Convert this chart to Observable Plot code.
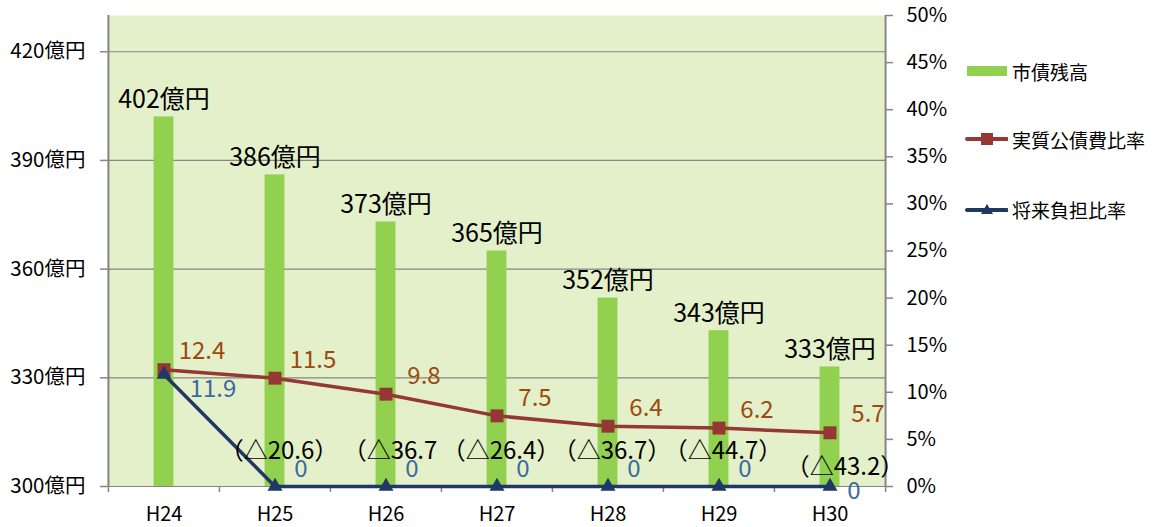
<!DOCTYPE html>
<html><head><meta charset="utf-8">
<script src="https://cdn.jsdelivr.net/npm/d3@7"></script>
<script src="https://cdn.jsdelivr.net/npm/@observablehq/plot@0.6"></script>
<style>
body{margin:0;background:#fff;}
#wrap{position:relative;width:1157px;height:527px;font-family:"Noto Sans CJK JP",sans-serif;}
#legend{position:absolute;left:0;top:0;width:1157px;height:527px;pointer-events:none;}
.item{position:absolute;left:964px;height:24px;display:flex;align-items:center;font-size:19px;color:#000;white-space:nowrap;}
.item svg{margin-right:4px;}
</style></head><body><div id="wrap"><div id="legend"></div></div>
<script>
const years = ["H24","H25","H26","H27","H28","H29","H30"];
const debt = [402,386,373,365,352,343,333];
const realRatio = [12.4,11.5,9.8,7.5,6.4,6.2,5.7];
const futureRatio = [11.9,0,0,0,0,0,0];
const notes = ["","（△20.6）","（△36.7","（△26.4）","（△36.7）","（△44.7）","（△43.2）"];
const leftTicks = [300,330,360,390,420];
const rightTicks = [0,5,10,15,20,25,30,35,40,45,50];
const seriesNames = ["市債残高","実質公債費比率","将来負担比率"];
const colors = {bar:"#92D050", real:"#953735", future:"#1F3864", realLabel:"#9C4A10", futureLabel:"#3B6AA0", bg:"#E3F0CA", grid:"#868686"};

const W=1157,H=527,ML=107,MR=272,MT=15,MB=41;
const step=(W-ML-MR)/years.length;
const yMin=300,yMax=430,pMax=50;
const toY = p => yMin + p*(yMax-yMin)/pMax;
const last = years.length-1;
const data = years.map((year,i)=>({year,i,debt:debt[i],real:realRatio[i],future:futureRatio[i],note:notes[i]}));
const gray = colors.grid;

const chart = Plot.plot({
  width:W, height:H, marginLeft:ML, marginRight:MR, marginTop:MT, marginBottom:MB,
  style:{fontFamily:'"Noto Sans CJK JP", sans-serif', fontSize:"20px", color:"#000", background:"transparent", overflow:"visible"},
  x:{type:"band", domain:years, padding:0},
  y:{domain:[yMin,yMax]},
  marks:[
    Plot.frame({fill:colors.bg, stroke:null}),
    Plot.gridY(leftTicks,{stroke:gray, strokeOpacity:1, strokeWidth:1.2}),
    Plot.barY(data,{x:"year", y1:yMin, y2:"debt", fill:colors.bar, insetLeft:(step-20)/2, insetRight:(step-20)/2}),
    Plot.ruleX(years,{dx:-step/2, insetTop:H-MT-MB, insetBottom:-6, stroke:gray, strokeWidth:1.5}),
    Plot.ruleX([years[last]],{dx:step/2, insetTop:H-MT-MB, insetBottom:-6, stroke:gray, strokeWidth:1.5}),
    Plot.ruleX([years[0]],{dx:-step/2, stroke:gray, strokeWidth:2}),
    Plot.ruleX([years[last]],{dx:step/2, stroke:gray, strokeWidth:2}),
    Plot.axisY(leftTicks,{anchor:"left", label:null, tickSize:7, tickPadding:15, tickFormat:d=>d+"億円", stroke:gray, strokeWidth:1.5, fontSize:20.5}),
    Plot.axisY(rightTicks.map(toY),{anchor:"right", label:null, tickSize:7, tickPadding:14, tickFormat:d=>Math.round((d-yMin)*pMax/(yMax-yMin))+"%", stroke:gray, strokeWidth:1.5, fontSize:20}),
    Plot.axisX({label:null, tickSize:0, tickPadding:20, fontSize:20}),
    Plot.line(data,{x:"year", y:d=>toY(d.real), stroke:colors.real, strokeWidth:3.5}),
    Plot.dot(data,{x:"year", y:d=>toY(d.real), symbol:"square", r:7.3, fill:colors.real}),
    Plot.line(data,{x:"year", y:d=>toY(d.future), stroke:colors.future, strokeWidth:3.5}),
    Plot.dot(data,{x:"year", y:d=>toY(d.future), symbol:"triangle", r:5.6, fill:colors.future}),
    Plot.text(data,{x:"year", y:"debt", text:d=>d.debt+"億円", dy:-17, fontSize:25, fill:"#000"}),
    Plot.text(data,{x:"year", y:d=>toY(d.real), text:d=>d.real.toFixed(1), dx:38, dy:-18, fontSize:24, fill:colors.realLabel}),
    Plot.text(data.filter(d=>d.future>0),{x:"year", y:d=>toY(d.future), text:d=>String(d.future), dx:49, dy:15, fontSize:24, fill:colors.futureLabel}),
    Plot.text(data.filter(d=>d.future===0 && d.i!==last),{x:"year", y:d=>toY(d.future), text:d=>String(d.future), dx:26, dy:-17, fontSize:24, fill:colors.futureLabel}),
    Plot.text(data.filter(d=>d.future===0 && d.i===last),{x:"year", y:d=>toY(d.future), text:d=>String(d.future), dx:24, dy:5, fontSize:24, fill:colors.futureLabel}),
    Plot.text(data.filter(d=>d.note && d.i!==last),{x:"year", frameAnchor:"bottom", lineAnchor:"middle", text:"note", dx:4, dy:-35, fontSize:24, fill:"#000"}),
    Plot.text(data.filter(d=>d.note && d.i===last),{x:"year", frameAnchor:"bottom", lineAnchor:"middle", text:"note", dx:15, dy:-19, fontSize:24, fill:"#000"})
  ]
});
const wrap=document.getElementById("wrap");
wrap.insertBefore(chart, wrap.firstChild);

const legend=document.getElementById("legend");
const sw = [
  `<svg width="44" height="14"><rect x="3" y="2" width="40" height="10" fill="${colors.bar}"/></svg>`,
  `<svg width="44" height="14"><line x1="3" y1="7" x2="43" y2="7" stroke="${colors.real}" stroke-width="4" stroke-linecap="round"/><rect x="17" y="1" width="12" height="12" fill="${colors.real}"/></svg>`,
  `<svg width="44" height="14"><line x1="3" y1="8" x2="43" y2="8" stroke="${colors.future}" stroke-width="4" stroke-linecap="round"/><path d="M23,2 L29,12 L17,12 Z" fill="${colors.future}"/></svg>`
];
const tops=[59,127,197];
seriesNames.forEach((n,i)=>{
  const d=document.createElement("div");
  d.className="item"; d.style.top=tops[i]+"px";
  d.innerHTML=sw[i]+"<span>"+n+"</span>";
  legend.appendChild(d);
});
</script></body></html>
